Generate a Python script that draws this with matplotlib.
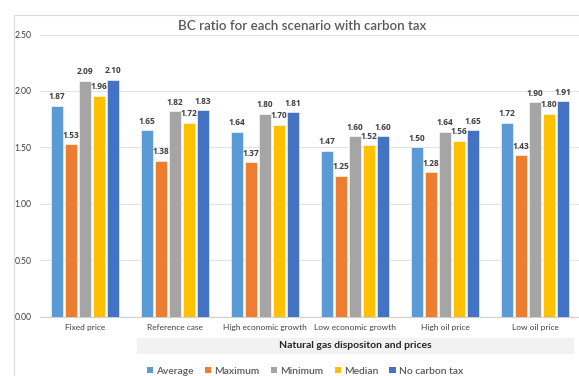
import matplotlib
matplotlib.use("Agg")
import matplotlib.pyplot as plt
import numpy as np
from matplotlib.patches import Rectangle, Patch

categories = ["Fixed price", "Reference case", "High economic growth",
              "Low economic growth", "High oil price", "Low oil price"]
series_names = ["Average", "Maximum", "Minimum", "Median", "No carbon tax"]
average = [1.87, 1.65, 1.64, 1.47, 1.50, 1.72]
maximum = [1.53, 1.38, 1.37, 1.25, 1.28, 1.43]
minimum = [2.09, 1.82, 1.80, 1.60, 1.64, 1.90]
median = [1.96, 1.72, 1.70, 1.52, 1.56, 1.80]
no_carbon_tax = [2.10, 1.83, 1.81, 1.60, 1.65, 1.91]
y_ticks = [0.0, 0.5, 1.0, 1.5, 2.0, 2.5]

series = [average, maximum, minimum, median, no_carbon_tax]
colors = ["#5B9BD5", "#ED7D31", "#A5A5A5", "#FFC000", "#4472C4"]

plt.rcParams['font.family'] = ['Lato', 'DejaVu Sans']

W, H = 579, 376
fig = plt.figure(figsize=(W / 100, H / 100), dpi=100)

# chart border
fig.patches.append(Rectangle((14 / W, -0.1), 1.2, 1 - 15 / H + 0.1,
                             transform=fig.transFigure, fill=False,
                             edgecolor="#D9D9D9", linewidth=0.8))

ax = fig.add_axes([40 / W, 1 - 316.6 / H, 540 / W, (316.6 - 34.6) / H])
x = np.arange(len(categories))
step = 0.155
bw = 0.125
for i, (vals, c) in enumerate(zip(series, colors)):
    xs = x + (i - 2) * step
    ax.bar(xs, vals, width=bw, color=c, edgecolor="white",
           linewidth=0.4, label=series_names[i], zorder=3)
    for xi, v in zip(xs, vals):
        ax.text(xi, v + 0.04, f"{v:.2f}", ha="center", va="bottom",
                fontsize=6.0, fontweight="bold", color="#404040", zorder=4,
                family=["Open Sans", "DejaVu Sans"])

ax.set_xlim(-0.5, len(categories) - 0.5)
ax.set_ylim(0, 2.5)
ax.set_yticks(y_ticks)
ax.set_yticklabels([f"{t:.2f}" for t in y_ticks], fontsize=6.2, color="#404040")
ax.set_xticks(x)
ax.set_xticklabels(categories, fontsize=6.0, color="#404040")
ax.tick_params(length=0, pad=6)
ax.tick_params(axis="x", pad=5)
ax.grid(axis="y", color="#E3E3E3", linewidth=0.8, zorder=0)
for s in ["top", "right", "left"]:
    ax.spines[s].set_visible(False)
ax.spines["bottom"].set_color("#D0D0D0")
ax.spines["bottom"].set_linewidth(0.8)
ax.set_facecolor("none")

fig.text(302 / W, 1 - 26 / H, "BC ratio for each scenario with carbon tax",
         ha="center", va="center", fontsize=9.6, fontweight="semibold",
         color="#595959")

# gray band axis title
fig.patches.append(Rectangle((137 / W, 1 - 354 / H), (574 - 137) / W, 16 / H,
                             transform=fig.transFigure, facecolor="#F2F2F2",
                             edgecolor="none"))
fig.text(355 / W, 1 - 346 / H, "Natural gas dispositon and prices",
         ha="center", va="center", fontsize=7.5, fontweight="bold", color="#262626")

handles = [Patch(facecolor=c, label=n) for c, n in zip(colors, series_names)]
fig.legend(handles=handles, loc="center", bbox_to_anchor=(305 / W, 1 - 371 / H),
           ncol=5, frameon=False, fontsize=7.4, handlelength=0.6, handleheight=0.6,
           handletextpad=0.3, columnspacing=1.1, labelcolor="#595959",
           prop={"weight": "semibold", "size": 7.4})

fig.savefig("out.png", dpi=100)
